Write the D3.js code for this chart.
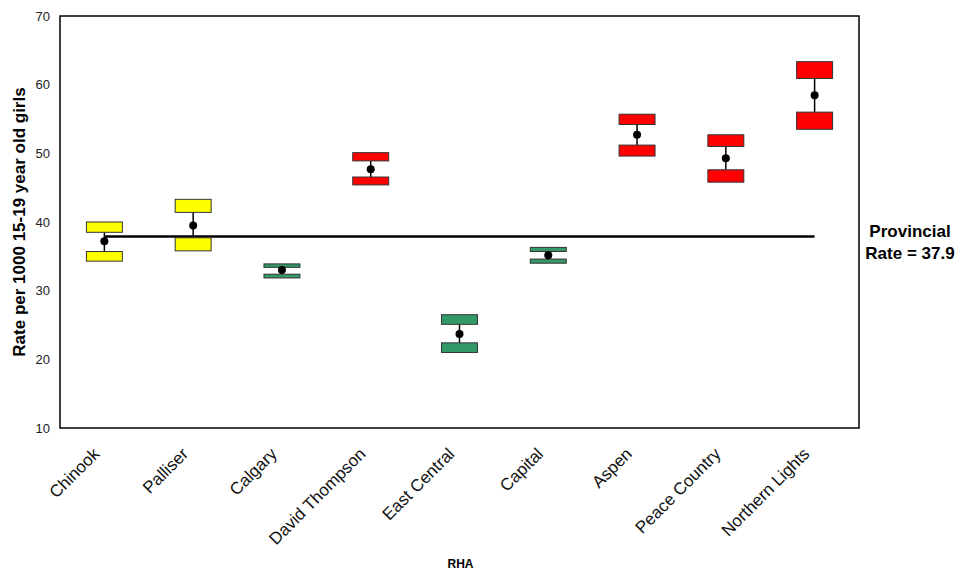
<!DOCTYPE html>
<html>
<head>
<meta charset="utf-8">
<script src="https://cdn.jsdelivr.net/npm/d3@7"></script>
<style>
  html, body { margin: 0; padding: 0; background: #fff; }
  svg { display: block; font-family: Arial, "Liberation Sans", sans-serif; }
</style>
</head>
<body>
<svg id="chart" width="961" height="573"></svg>
<script>
// Teen pregnancy rates by Regional Health Authority
const categories = ["Chinook", "Palliser", "Calgary", "David Thompson", "East Central",
                    "Capital", "Aspen", "Peace Country", "Northern Lights"];
const estimates      = [37.2, 39.5, 33.0, 47.7, 23.7, 35.15, 52.7, 49.3, 58.45];
const upperBoxTop    = [40.0, 43.3, 33.9, 50.1, 26.5, 36.3, 55.7, 52.7, 63.35];
const upperBoxBottom = [38.5, 41.4, 33.4, 48.9, 25.1, 35.7, 54.2, 51.0, 60.9];
const lowerBoxTop    = [35.7, 37.7, 32.4, 46.55, 22.4, 34.6, 51.2, 47.6, 56.0];
const lowerBoxBottom = [34.3, 35.8, 31.85, 45.4, 21.0, 34.0, 49.6, 45.8, 53.5];
const comparison     = ["similar", "similar", "lower", "higher", "lower",
                        "lower", "higher", "higher", "higher"];
const provincialRate = 37.9;
const yTicks = [10, 20, 30, 40, 50, 60, 70];

const svg = d3.select("#chart");
const margin = { left: 60, right: 102, top: 16, bottom: 145 };
const W = 961, H = 573;
const plotW = W - margin.left - margin.right;
const plotH = H - margin.top - margin.bottom;

const x = d3.scaleBand().domain(categories).range([0, plotW]).padding(0);
const y = d3.scaleLinear().domain([10, 70]).range([plotH, 0]);
const color = d3.scaleOrdinal()
  .domain(["similar", "lower", "higher"])
  .range(["#FFFF00", "#339966", "#FF0000"]);

const g = svg.append("g").attr("transform", `translate(${margin.left},${margin.top})`);

// Plot frame
g.append("rect")
  .attr("x", 0).attr("y", 0).attr("width", plotW).attr("height", plotH)
  .attr("fill", "none").attr("stroke", "#000").attr("stroke-width", 1.5);

// Y axis labels (no tick marks)
const yAxis = g.append("g").call(d3.axisLeft(y).tickValues(yTicks).tickSize(0).tickPadding(10));
yAxis.select(".domain").remove();
yAxis.selectAll("text").attr("font-size", 13).attr("fill", "#222")
  .attr("font-family", "Arial, 'Liberation Sans', sans-serif");

// X axis labels, rotated
const xAxis = g.append("g").attr("transform", `translate(0,${plotH})`)
  .call(d3.axisBottom(x).tickSize(0).tickFormat(""));
xAxis.select(".domain").remove();
g.append("g").selectAll("text.xlab")
  .data(categories)
  .join("text")
  .attr("class", "xlab")
  .attr("transform", d => `translate(${x(d) + x.bandwidth() / 2 - 4},${plotH + 27}) rotate(-45)`)
  .attr("text-anchor", "end")
  .attr("font-size", 17)
  .attr("fill", "#111")
  .text(d => d);

// Provincial rate reference line
g.append("line")
  .attr("x1", x(categories[0]) + x.bandwidth() / 2)
  .attr("x2", x(categories[categories.length - 1]) + x.bandwidth() / 2)
  .attr("y1", y(provincialRate)).attr("y2", y(provincialRate))
  .attr("stroke", "#000").attr("stroke-width", 2.5);

// Interval markers
const boxW = x.bandwidth() * 0.405;
const items = g.append("g").selectAll("g.item")
  .data(categories.map((c, i) => ({
    c, est: estimates[i], ut: upperBoxTop[i], ub: upperBoxBottom[i],
    lt: lowerBoxTop[i], lb: lowerBoxBottom[i], cmp: comparison[i]
  })))
  .join("g")
  .attr("class", "item")
  .attr("transform", d => `translate(${x(d.c) + x.bandwidth() / 2},0)`);

items.append("line")
  .attr("x1", 0).attr("x2", 0)
  .attr("y1", d => y(d.ub)).attr("y2", d => y(d.lt))
  .attr("stroke", "#000").attr("stroke-width", 1.5);

items.append("rect")
  .attr("x", -boxW / 2).attr("width", boxW)
  .attr("y", d => y(d.ut)).attr("height", d => y(d.ub) - y(d.ut))
  .attr("fill", d => color(d.cmp)).attr("stroke", "#333").attr("stroke-width", 1);

items.append("rect")
  .attr("x", -boxW / 2).attr("width", boxW)
  .attr("y", d => y(d.lt)).attr("height", d => y(d.lb) - y(d.lt))
  .attr("fill", d => color(d.cmp)).attr("stroke", "#333").attr("stroke-width", 1);

items.append("circle")
  .attr("cx", 0).attr("cy", d => y(d.est)).attr("r", 4)
  .attr("fill", "#000");

// Titles
svg.append("text")
  .attr("transform", `translate(25,${margin.top + plotH / 2}) rotate(-90)`)
  .attr("text-anchor", "middle")
  .attr("font-size", 17).attr("font-weight", "bold").attr("fill", "#000")
  .text("Rate per 1000 15-19 year old girls");

svg.append("text")
  .attr("x", margin.left + plotW / 2 + 1).attr("y", 568)
  .attr("text-anchor", "middle")
  .attr("font-size", 12).attr("font-weight", "bold").attr("fill", "#000")
  .text("RHA");

const prov = svg.append("text")
  .attr("text-anchor", "middle")
  .attr("font-size", 17).attr("font-weight", "bold").attr("fill", "#000");
prov.append("tspan").attr("x", 910).attr("y", 237).text("Provincial");
prov.append("tspan").attr("x", 910).attr("y", 259).text(`Rate = ${provincialRate}`);
</script>
</body>
</html>
